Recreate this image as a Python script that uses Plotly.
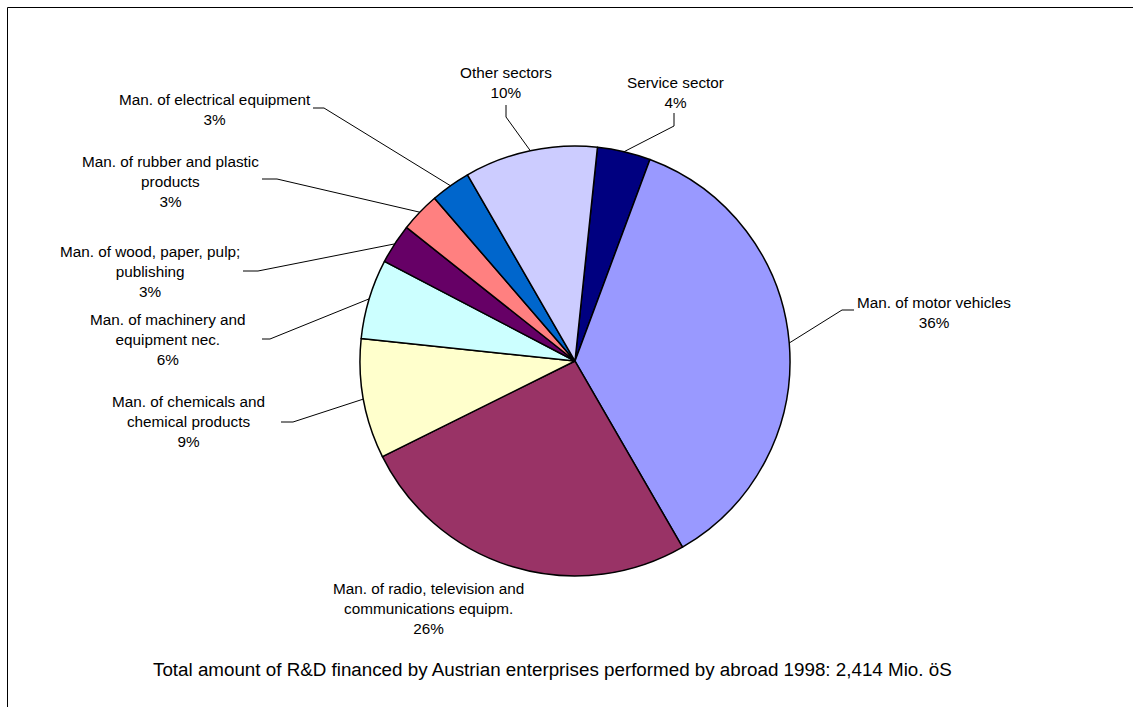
import math
import plotly.graph_objects as go

# R&D financed by Austrian enterprises and performed abroad, 1998, share by sector (%)
sectors = [
    "Service sector",
    "Man. of motor vehicles",
    "Man. of radio, television and<br>communications equipm.",
    "Man. of chemicals and<br>chemical products",
    "Man. of machinery and<br>equipment nec.",
    "Man. of wood, paper, pulp;<br>publishing",
    "Man. of rubber and plastic<br>products",
    "Man. of electrical equipment",
    "Other sectors",
]
shares = [4, 36, 26, 9, 6, 3, 3, 3, 10]
colors = ["#000080", "#9999FF", "#993366", "#FFFFCC", "#CCFFFF",
          "#660066", "#FF8080", "#0066CC", "#CCCCFF"]
caption = "Total amount of R&D financed by Austrian enterprises performed by abroad 1998: 2,414 Mio. öS"

W, H = 1133, 707
CX, CY, R = 575, 361, 215
ROTATION = 6
FONT = "Liberation Sans, Arial, sans-serif"


def px(x):
    return x / W


def py(y):
    return 1 - y / H


# label block centres and leader-line start/elbow (pixels); None = no leader
label_layout = [
    dict(pos=(675, 92), start=(674, 113), elbow=(674, 126)),
    dict(pos=(934, 312), start=(854, 310), elbow=(842, 310)),
    dict(pos=(428, 608), start=None, elbow=None),
    dict(pos=(188, 422), start=(281, 422), elbow=(293, 422)),
    dict(pos=(168, 340), start=(262, 339), elbow=(270, 339)),
    dict(pos=(150, 271), start=(243, 271), elbow=(258, 271)),
    dict(pos=(170, 181), start=(262, 179), elbow=(277, 179)),
    dict(pos=(215, 109), start=(313, 108), elbow=(324, 108)),
    dict(pos=(506, 82), start=(506, 105), elbow=(506, 117)),
]

fig = go.Figure(go.Pie(
    values=shares,
    labels=[s.replace("<br>", " ") for s in sectors],
    sort=False,
    direction="clockwise",
    rotation=ROTATION,
    textinfo="none",
    hoverinfo="label+percent",
    marker=dict(colors=colors, line=dict(color="black", width=1.5)),
    domain=dict(x=[px(CX - R), px(CX + R)], y=[py(CY + R), py(CY - R)]),
    showlegend=False,
))

annotations = []
shapes = []
total = sum(shares)
cum = 0
for name, share, lay in zip(sectors, shares, label_layout):
    mid = math.radians(ROTATION + 360 * (cum + share / 2) / total)
    cum += share
    ex = CX + R * math.sin(mid)
    ey = CY - R * math.cos(mid)
    lx, ly = lay["pos"]
    annotations.append(dict(
        text=f"{name}<br>{share}%", x=px(lx), y=py(ly),
        xref="paper", yref="paper", xanchor="center", yanchor="middle",
        showarrow=False, align="center",
        font=dict(family=FONT, size=15.3, color="black"),
    ))
    if lay["start"] is not None:
        (sx, sy), (bx, by) = lay["start"], lay["elbow"]
        path = (f"M {px(sx)},{py(sy)} L {px(bx)},{py(by)} "
                f"L {px(ex)},{py(ey)}")
        shapes.append(dict(type="path", path=path, xref="paper", yref="paper",
                           line=dict(color="black", width=1)))

annotations.append(dict(
    text=caption, x=px(552), y=py(669), xref="paper", yref="paper",
    xanchor="center", yanchor="middle", showarrow=False,
    font=dict(family=FONT, size=18.8, color="black"),
))

# chart-area frame (top and left edges)
shapes.append(dict(type="line", xref="paper", yref="paper",
                   x0=px(7.5), y0=py(7.5), x1=1, y1=py(7.5),
                   line=dict(color="black", width=1)))
shapes.append(dict(type="line", xref="paper", yref="paper",
                   x0=px(7.5), y0=py(7.5), x1=px(7.5), y1=0,
                   line=dict(color="black", width=1)))

fig.update_layout(
    width=W, height=H, autosize=False,
    margin=dict(l=0, r=0, t=0, b=0),
    paper_bgcolor="white", plot_bgcolor="white",
    annotations=annotations, shapes=shapes,
)

fig.write_html("out.html", config={"displayModeBar": False})
